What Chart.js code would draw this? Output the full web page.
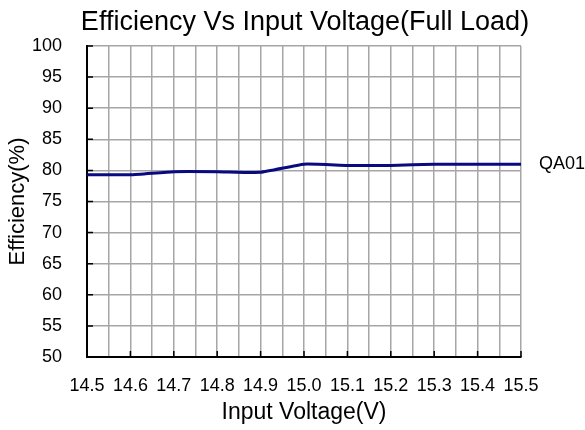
<!DOCTYPE html>
<html>
<head>
<meta charset="utf-8">
<script src="https://cdn.jsdelivr.net/npm/chart.js@4/dist/chart.umd.min.js"></script>
<style>
  html, body { margin: 0; padding: 0; background: #ffffff; }
  #wrap { width: 585px; height: 430px; }
</style>
</head>
<body>
<div id="wrap"><canvas id="c" width="585" height="430"></canvas></div>
<script>
// ---- data ----
const titleText = "Efficiency Vs Input Voltage(Full Load)";
const xAxisTitle = "Input Voltage(V)";
const yAxisTitle = "Efficiency(%)";
const seriesName = "QA01";
const inputVoltage = [14.5, 14.6, 14.7, 14.8, 14.9, 15.0, 15.1, 15.2, 15.3, 15.4, 15.5];
const efficiency   = [79.3, 79.3, 79.8, 79.8, 79.7, 81.0, 80.8, 80.8, 81.0, 81.0, 81.0];
const xMin = 14.5, xMax = 15.5, xGridStep = 0.05, xLabelStep = 0.1;
const yMin = 50, yMax = 100, yStep = 5;

const FONT = "'Liberation Sans', Arial, sans-serif";

const extras = {
  id: 'extras',
  afterDatasetsDraw(chart) {
    const ctx = chart.ctx, a = chart.chartArea;
    const xs = chart.scales.x, ys = chart.scales.y;
    ctx.save();
    // inward tick marks
    ctx.strokeStyle = '#000';
    ctx.lineWidth = 1.5;
    ctx.beginPath();
    for (let v = yMin; v <= yMax; v += yStep) {
      const y = ys.getPixelForValue(v);
      ctx.moveTo(a.left, y); ctx.lineTo(a.left + 6, y);
    }
    const n = Math.round((xMax - xMin) / xLabelStep);
    for (let i = 0; i <= n; i++) {
      const x = xs.getPixelForValue(xMin + i * xLabelStep);
      ctx.moveTo(x, a.bottom); ctx.lineTo(x, a.bottom - 6);
    }
    ctx.stroke();
    // chart title centred over the plot area
    ctx.fillStyle = '#000';
    ctx.font = "27px " + FONT;
    ctx.textAlign = 'center';
    ctx.textBaseline = 'middle';
    ctx.fillText(titleText, (a.left + a.right) / 2 + 1, 23);
    // series label at end of line
    const lastY = ys.getPixelForValue(efficiency[efficiency.length - 1]);
    ctx.font = "18px " + FONT;
    ctx.textAlign = 'left';
    ctx.fillText(seriesName, a.right + 18, lastY);
    ctx.restore();
  }
};

new Chart(document.getElementById('c'), {
  type: 'line',
  data: {
    datasets: [{
      label: seriesName,
      data: inputVoltage.map((v, i) => ({ x: v, y: efficiency[i] })),
      borderColor: '#0a0a80',
      backgroundColor: '#0a0a80',
      borderWidth: 3,
      pointRadius: 0,
      tension: 0.15,
      fill: false
    }]
  },
  options: {
    responsive: false,
    animation: false,
    devicePixelRatio: 1,
    layout: { padding: { left: 5, right: 64, top: 46, bottom: 4 } },
    plugins: {
      legend: { display: false },
      tooltip: { enabled: false },
      title: { display: false }
    },
    scales: {
      x: {
        type: 'linear',
        min: xMin, max: xMax,
        afterFit(s) { s.height = 69; },
        border: { display: true, color: '#000', width: 2 },
        grid: { color: '#a6a6a6', lineWidth: 1.5, drawTicks: false },
        ticks: {
          stepSize: xGridStep,
          autoSkip: false,
          maxRotation: 0,
          padding: 18,
          color: '#000',
          font: { family: FONT, size: 18 },
          callback(v) {
            const k = Math.round((v - xMin) / xGridStep);
            return k % 2 === 0 ? (+v).toFixed(1) : '';
          }
        },
        title: {
          display: true, text: xAxisTitle, color: '#000',
          font: { family: FONT, size: 23 }, padding: { top: 0, bottom: 0 }
        }
      },
      y: {
        min: yMin, max: yMax,
        afterFit(s) { s.width = 82; },
        border: { display: true, color: '#000', width: 2 },
        grid: { color: '#a6a6a6', lineWidth: 1.5, drawTicks: false },
        ticks: {
          stepSize: yStep,
          padding: 25,
          color: '#000',
          font: { family: FONT, size: 18 }
        },
        title: {
          display: true, text: yAxisTitle, color: '#000',
          font: { family: FONT, size: 22 }, padding: { top: 0, bottom: 0 }
        }
      }
    }
  },
  plugins: [extras]
});
</script>
</body>
</html>
